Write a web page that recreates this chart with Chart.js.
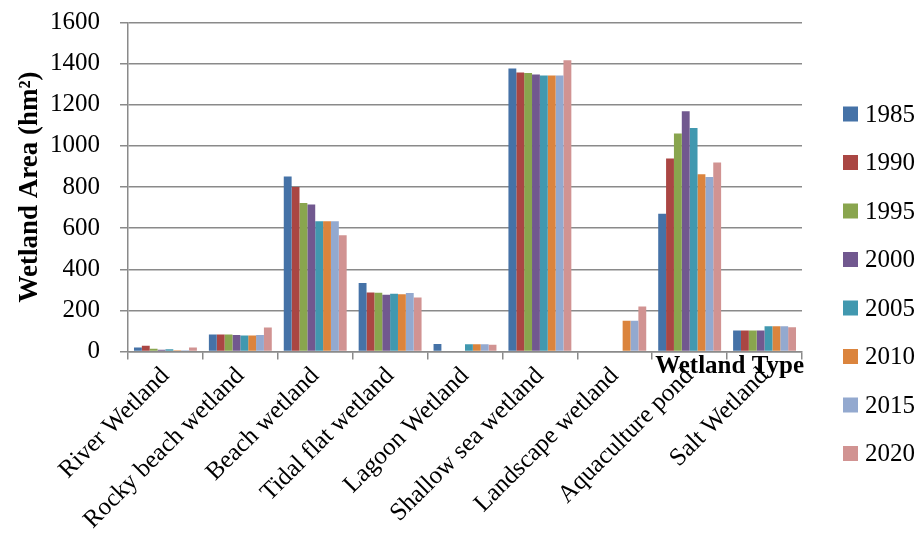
<!DOCTYPE html>
<html>
<head>
<meta charset="utf-8">
<script src="https://cdn.jsdelivr.net/npm/chart.js@4/dist/chart.umd.min.js"></script>
<style>
  html, body { margin: 0; padding: 0; background: #fff; }
  #wrap { width: 921px; height: 540px; position: relative; }
</style>
</head>
<body>
<div id="wrap"><canvas id="c" width="921" height="540"></canvas></div>
<script>
const categories = ['River Wetland', 'Rocky beach wetland', 'Beach wetland', 'Tidal flat wetland',
  'Lagoon Wetland', 'Shallow sea wetland', 'Landscape wetland', 'Aquaculture pond', 'Salt Wetland'];
const years = ['1985', '1990', '1995', '2000', '2005', '2010', '2015', '2020'];
const v1985 = [20, 83, 851, 333, 36, 1376, 0, 670, 102];
const v1990 = [28, 83, 800, 287, 0, 1357, 0, 938, 102];
const v1995 = [13, 83, 722, 286, 0, 1354, 0, 1060, 102];
const v2000 = [8, 80, 715, 276, 0, 1347, 0, 1168, 102];
const v2005 = [11, 78, 633, 281, 35, 1342, 0, 1087, 123];
const v2010 = [6, 78, 633, 279, 35, 1342, 150, 862, 123];
const v2015 = [6, 80, 633, 284, 35, 1342, 150, 849, 123];
const v2020 = [20, 117, 565, 263, 33, 1417, 219, 919, 118];
const yTicks = [0, 200, 400, 600, 800, 1000, 1200, 1400, 1600];

const seriesValues = [v1985, v1990, v1995, v2000, v2005, v2010, v2015, v2020];
const colors = ['#4572A7', '#AA4643', '#89A54E', '#71588F', '#4198AF', '#DB843D', '#93A9CF', '#D19392'];
const SERIF = '"Liberation Serif", "Times New Roman", serif';

const datasets = years.map((y, i) => ({
  label: y,
  data: seriesValues[i],
  backgroundColor: colors[i],
  borderWidth: 0,
  categoryPercentage: 0.84,
  barPercentage: 1.0
}));

const overlay = {
  id: 'overlay',
  afterDraw(chart) {
    const ctx = chart.ctx;
    ctx.save();
    // legend
    ctx.font = '25px ' + SERIF;
    ctx.textBaseline = 'middle';
    ctx.textAlign = 'left';
    chart.data.datasets.forEach((ds, i) => {
      const cy = 114 + i * 48.5;
      ctx.fillStyle = ds.backgroundColor;
      ctx.fillRect(843, cy - 7.5, 15, 15);
      ctx.fillStyle = '#000';
      ctx.fillText(ds.label, 865, cy + 1);
    });
    // x-axis title (overlapping, as in the original)
    ctx.font = 'bold 25px ' + SERIF;
    ctx.textAlign = 'right';
    ctx.textBaseline = 'alphabetic';
    ctx.fillStyle = '#000';
    ctx.fillText('Wetland Type', 804, 373);
    ctx.restore();
  }
};

new Chart(document.getElementById('c'), {
  type: 'bar',
  data: { labels: categories, datasets },
  plugins: [overlay],
  options: {
    responsive: false,
    animation: false,
    layout: { padding: { left: 0, top: 22.5, right: 119, bottom: 0 } },
    plugins: { legend: { display: false }, tooltip: { enabled: false } },
    scales: {
      x: {
        afterFit(scale) { scale.height = 188.5; scale.paddingLeft = 0; scale.paddingRight = 0; },
        grid: { display: true, drawOnChartArea: false, drawTicks: true, tickLength: 8, color: '#8a8a8a', lineWidth: 1.5, offset: true },
        border: { display: true, color: '#8a8a8a', width: 1.5 },
        ticks: {
          maxRotation: 45, minRotation: 45, autoSkip: false, padding: 2,
          color: '#000', font: { family: SERIF, size: 25 }
        }
      },
      y: {
        min: 0, max: 1600,
        afterFit(scale) { scale.width = 128; scale.paddingTop = 0; scale.paddingBottom = 0; },
        afterBuildTicks(scale) { scale.ticks = yTicks.map(v => ({ value: v })); },
        grid: { color: '#8a8a8a', lineWidth: 1.5, tickLength: 8, drawTicks: true },
        border: { display: true, color: '#8a8a8a', width: 1.5 },
        ticks: {
          padding: 20, color: '#000', font: { family: SERIF, size: 25 },
          callback: (v) => String(v)
        },
        title: {
          display: true, text: 'Wetland Area (hm²)', color: '#000',
          font: { family: SERIF, size: 27, weight: 'bold' },
          padding: { top: 14, bottom: 0 }
        }
      }
    }
  }
});
</script>
</body>
</html>
